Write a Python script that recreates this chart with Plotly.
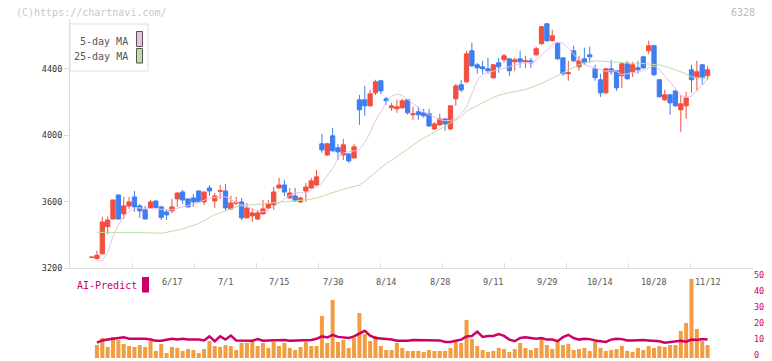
import plotly.graph_objects as go

# ---------------- data ----------------
opens = [3265,3257,3286,3449,3495,3640,3526,3574,3628,3574,3550,3562,3604,3568,3538,3544,3616,3658,3616,3622,
         3664,3598,3682,3604,3662,3664,3556,3590,3598,3502,3514,3495,3526,3562,3580,3682,3700,3622,3634,3598,
         3664,3682,3700,3948,3881,3996,3924,3881,3887,3863,4213,4213,4177,4255,4328,4219,4165,4159,4165,4213,
         4123,4141,4135,4129,4038,4062,4098,4038,4219,4304,4322,4509,4424,4412,4400,4346,4436,4454,4460,4442,
         4460,4442,4448,4484,4551,4671,4569,4557,4466,4370,4509,4412,4460,4484,4400,4334,4255,4400,4388,4358,
         4430,4382,4406,4472,4509,4539,4334,4213,4243,4267,4153,4177,4394,4346,4424,4358]
highs = [3265,3304,3509,3509,3612,3642,3630,3628,3664,3586,3574,3610,3606,3575,3550,3616,3655,3670,3620,3646,
         3666,3660,3700,3652,3700,3706,3634,3628,3622,3592,3562,3550,3610,3610,3688,3743,3731,3682,3682,3630,
         3712,3743,3791,4008,3955,4044,3948,3978,3890,3948,4243,4297,4273,4334,4334,4231,4195,4213,4219,4215,
         4171,4171,4159,4159,4080,4129,4100,4180,4310,4334,4509,4557,4436,4448,4466,4428,4466,4490,4462,4466,
         4509,4478,4466,4533,4658,4675,4635,4560,4468,4448,4539,4478,4527,4533,4424,4370,4404,4454,4390,4434,
         4448,4442,4448,4476,4569,4545,4338,4273,4249,4270,4240,4261,4424,4448,4428,4418]
lows = [3265,3252,3280,3403,3493,3493,3495,3556,3538,3502,3493,3558,3560,3489,3489,3530,3568,3586,3565,3568,
        3596,3580,3634,3562,3616,3544,3550,3580,3489,3498,3477,3489,3520,3556,3550,3678,3634,3618,3598,3592,
        3598,3678,3695,3894,3875,3900,3851,3851,3833,3860,4062,4117,4170,4243,4249,4183,4147,4135,4160,4123,
        4092,4092,4105,4050,4032,4056,4026,4032,4177,4260,4316,4410,4370,4370,4370,4340,4376,4436,4358,4388,
        4406,4406,4406,4480,4545,4563,4565,4455,4358,4328,4440,4388,4424,4436,4328,4231,4250,4364,4267,4285,
        4334,4352,4370,4400,4490,4358,4228,4207,4123,4171,4020,4098,4255,4267,4304,4334]
closes = [3265,3277,3477,3489,3610,3495,3574,3598,3568,3544,3495,3598,3565,3505,3520,3568,3652,3610,3568,3598,
          3598,3658,3664,3634,3666,3562,3592,3594,3502,3562,3532,3532,3556,3586,3658,3700,3658,3652,3604,3622,
          3688,3725,3749,3912,3948,3906,3900,3942,3845,3930,4153,4177,4249,4322,4267,4207,4177,4171,4207,4135,
          4129,4123,4117,4056,4068,4098,4068,4177,4297,4273,4490,4418,4406,4400,4388,4424,4412,4478,4388,4454,
          4442,4448,4436,4521,4653,4569,4599,4460,4370,4376,4448,4448,4436,4472,4346,4255,4400,4382,4285,4430,
          4340,4424,4394,4406,4539,4364,4231,4243,4195,4177,4189,4225,4334,4382,4346,4394]

ma5 = [None,3242,3245,3295,3390,3460,3510,3540,3560,3562,3560,3556,3555,3555,3552,3550,3560,3570,3576,3584,
       3598,3608,3618,3625,3632,3628,3612,3596,3580,3570,3555,3542,3538,3550,3572,3590,3615,3638,3652,3655,
       3650,3668,3690,3710,3755,3800,3862,3893,3900,3905,3915,3955,4015,4090,4140,4200,4235,4247,4240,4215,
       4190,4160,4140,4125,4110,4093,4088,4088,4100,4130,4170,4255,4330,4365,4380,4386,4394,4402,4412,4424,
       4432,4436,4438,4450,4482,4515,4545,4559,4555,4525,4487,4452,4424,4415,4405,4395,4385,4388,4385,4365,
       4368,4375,4382,4390,4405,4418,4395,4360,4320,4280,4240,4228,4235,4270,4300,4340]
ma25 = [None,3415,3415,3415,3415,3415,3415,3415,3415,3415,3413,3412,3410,3410,3415,3420,3428,3435,3445,3455,
        3468,3485,3505,3522,3532,3545,3558,3568,3575,3578,3582,3585,3586,3588,3590,3594,3597,3600,3603,3606,
        3609,3614,3622,3633,3642,3652,3662,3675,3683,3690,3700,3722,3750,3778,3806,3830,3848,3871,3895,3920,
        3940,3962,3982,3998,4014,4035,4055,4073,4092,4110,4145,4163,4180,4195,4210,4228,4240,4250,4257,4262,
        4267,4275,4287,4298,4312,4327,4343,4360,4377,4395,4410,4425,4436,4442,4448,4446,4444,4440,4436,4434,
        4434,4434,4434,4432,4430,4428,4424,4415,4405,4395,4382,4368,4352,4347,4345,4342]

volume = [None,8.1,12.5,6.9,13.1,11.3,8.8,7.5,6.9,8.1,6.9,10.6,4.4,8.8,3.1,6.9,6.3,4.4,5.6,5.0,
          3.1,5.6,10.6,7.5,6.9,8.1,7.5,5.0,9.4,9.4,10.0,7.5,9.4,6.3,10.0,7.5,9.4,6.3,5.0,6.9,
          10.0,7.5,7.5,26.3,9.4,36.3,10.0,11.3,6.3,12.5,28.1,15.0,10.6,13.8,7.5,5.0,5.0,9.4,6.3,4.4,
          4.4,4.4,3.8,5.0,4.4,4.4,4.4,6.3,10.0,9.4,23.8,11.9,7.5,5.0,3.8,4.4,6.3,5.6,3.8,5.6,
          9.4,6.3,5.0,6.3,13.1,8.1,5.6,10.0,8.1,8.8,5.0,5.6,6.3,4.4,10.0,6.3,4.4,5.0,5.6,7.5,
          4.4,3.8,6.3,5.0,7.5,6.3,7.5,6.9,8.1,8.1,16.9,21.9,49.4,18.1,10.6,8.1]
ai_predict = [None,9.6,11.0,11.5,12.0,12.5,13.0,12.0,12.0,12.0,12.0,11.5,10.8,10.8,11.5,12.0,11.5,12.0,11.5,11.5,
              11.5,11.0,13.5,10.5,13.5,11.5,14.0,11.0,10.8,10.8,10.8,11.8,10.8,11.0,11.2,11.2,11.2,10.8,10.8,10.8,
              11.0,11.2,12.0,13.5,12.8,14.5,13.2,13.0,12.5,13.5,15.0,17.0,14.0,12.5,12.2,12.0,11.5,10.8,10.8,10.8,
              11.3,11.3,11.3,11.0,11.0,11.0,10.0,10.0,10.8,11.5,13.5,13.8,16.5,13.2,13.8,13.8,15.0,13.8,11.5,10.5,
              12.5,13.0,12.5,12.0,12.5,11.5,11.5,10.5,13.0,14.5,12.5,11.5,12.0,11.8,11.0,10.5,10.0,11.5,12.0,11.8,
              11.0,11.0,11.3,11.3,11.0,10.8,10.5,9.6,10.0,10.5,10.8,10.2,11.5,11.2,11.8,11.5]

date_labels = ["6/17", "7/1", "7/15", "7/30", "8/14", "8/28", "9/11", "9/29", "10/14", "10/28", "11/12"]

idx = list(range(len(closes)))
n = len(closes)
label_idx = [n - 1 - 10 * (len(date_labels) - 1 - i) for i in range(len(date_labels))]

RED = "#f24f3f"
BLUE = "#3f7ef0"
PINK = "#ebbdeb"
GREEN = "#bbdeaa"
ORANGE = "#f39c41"
MAGENTA = "#cc0066"
MONO = "DejaVu Sans Mono"

# ---------------- geometry helpers ----------------
W, H = 772, 361
ML, MR, MT, MB = 70, 19, 19, 3
PW, PH = W - ML - MR, H - MT - MB
def px(x):
    return (x - ML) / PW
def py(y):
    return (H - MB - y) / PH

split = py(268)
xr = [-4.03, 123.48]

fig = go.Figure()

fig.add_trace(go.Candlestick(
    x=idx, open=opens, high=highs, low=lows, close=closes,
    increasing=dict(line=dict(color=RED, width=1), fillcolor=RED),
    decreasing=dict(line=dict(color=BLUE, width=1), fillcolor=BLUE),
    xaxis="x", yaxis="y", hoverinfo="skip", showlegend=False))

fig.add_trace(go.Scatter(x=idx, y=ma25, mode="lines", line=dict(color=GREEN, width=1),
                         xaxis="x", yaxis="y", showlegend=False, hoverinfo="skip"))
fig.add_trace(go.Scatter(x=idx, y=ma5, mode="lines", line=dict(color=PINK, width=1),
                         xaxis="x", yaxis="y", showlegend=False, hoverinfo="skip"))

fig.add_trace(go.Bar(x=idx, y=volume, marker=dict(color=ORANGE, line=dict(width=0)),
                     xaxis="x2", yaxis="y2", showlegend=False, hoverinfo="skip"))
fig.add_trace(go.Scatter(x=idx, y=ai_predict, mode="lines", line=dict(color=MAGENTA, width=2.5),
                         xaxis="x2", yaxis="y2", showlegend=False, hoverinfo="skip"))

ann = []
for i, t in zip(label_idx, date_labels):
    ann.append(dict(x=i, y=py(282), xref="x2", yref="paper", text=t, showarrow=False,
                    font=dict(family=MONO, size=8.5, color="#555555"), xanchor="center", yanchor="middle"))
ann += [
    dict(x=px(14), y=py(12), xref="paper", yref="paper", text="(C)https://chartnavi.com/", showarrow=False,
         font=dict(family=MONO, size=10, color="#c8c8c8"), xanchor="left", yanchor="middle"),
    dict(x=px(757), y=py(12), xref="paper", yref="paper", text="6328", showarrow=False,
         font=dict(family=MONO, size=10, color="#bdbdbd"), xanchor="right", yanchor="middle"),
    dict(x=px(130), y=py(41), xref="paper", yref="paper", text="5-day MA", showarrow=False,
         font=dict(family=MONO, size=10, color="#555555"), xanchor="right", yanchor="middle"),
    dict(x=px(130), y=py(56.5), xref="paper", yref="paper", text="25-day MA", showarrow=False,
         font=dict(family=MONO, size=10, color="#555555"), xanchor="right", yanchor="middle"),
    dict(x=px(75), y=py(285), xref="paper", yref="paper", text="AI-Predict", showarrow=False,
         font=dict(family=MONO, size=10, color=MAGENTA), xanchor="left", yanchor="middle"),
]

shapes = [
    dict(type="rect", xref="paper", yref="paper", x0=px(70), x1=px(148), y0=py(71), y1=py(24),
         line=dict(color="#dddddd", width=1), fillcolor="white", layer="above"),
    dict(type="rect", xref="paper", yref="paper", x0=px(136.5), x1=px(142.5), y0=py(46.5), y1=py(31.5),
         line=dict(color="#555555", width=1), fillcolor=PINK, layer="above"),
    dict(type="rect", xref="paper", yref="paper", x0=px(136.5), x1=px(142.5), y0=py(63), y1=py(48.5),
         line=dict(color="#555555", width=1), fillcolor=GREEN, layer="above"),
    dict(type="rect", xref="paper", yref="paper", x0=px(142), x1=px(149), y0=py(292.5), y1=py(277),
         line=dict(width=0), fillcolor=MAGENTA),
]

fig.update_layout(
    width=W, height=H, margin=dict(l=ML, r=MR, t=MT, b=MB, autoexpand=False),
    paper_bgcolor="white", plot_bgcolor="white",
    showlegend=False, bargap=0.25, boxgap=0.2, boxgroupgap=0,
    annotations=ann, shapes=shapes,
    xaxis=dict(domain=[0, 1], anchor="y", range=xr, showgrid=False, zeroline=False, automargin=False,
               showline=True, linecolor="#dddddd", linewidth=1,
               ticks="inside", ticklen=5, tickcolor="#dddddd",
               tick0=xr[0], dtick=(xr[1] - xr[0]) / 11, showticklabels=False,
               rangeslider=dict(visible=False), fixedrange=True),
    yaxis=dict(domain=[split, 1], anchor="x", range=[3200, 4700], showgrid=False, zeroline=False,
               automargin=False, showline=True, linecolor="#dddddd", linewidth=1,
               tickvals=[3200, 3600, 4000, 4400], ticks="outside", ticklen=5, tickcolor="#dddddd",
               ticklabeloverflow="allow",
               tickfont=dict(family=MONO, size=8.5, color="#333333"), fixedrange=True),
    xaxis2=dict(domain=[0, 1], anchor="y2", matches="x", range=xr, showgrid=False, zeroline=False,
                automargin=False, showline=False, showticklabels=False, ticks=""),
    yaxis2=dict(domain=[0, split], anchor="x2", side="right", range=[0, 56.25], showgrid=False,
                automargin=False, zeroline=False, showline=False, tickvals=[0, 10, 20, 30, 40, 50],
                ticks="", ticklabeloverflow="allow", ticklabelshift=-3,
                tickfont=dict(family=MONO, size=8.5, color=MAGENTA), fixedrange=True),
)

fig.write_html("out.html", config={"displayModeBar": False, "staticPlot": True},
               post_script="document.body.style.margin='0';document.body.style.overflow='hidden';")
